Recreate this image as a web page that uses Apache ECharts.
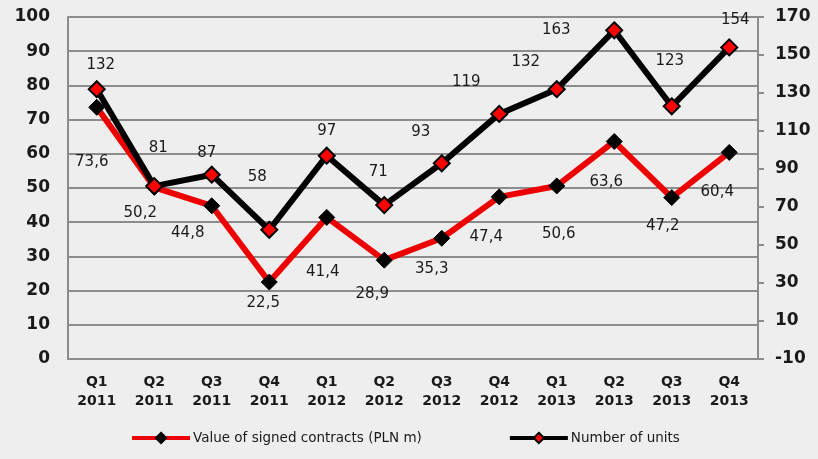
<!DOCTYPE html>
<html>
<head>
<meta charset="utf-8">
<script src="https://cdn.jsdelivr.net/npm/echarts@6/dist/echarts.min.js"></script>
<style>
  html, body { margin: 0; padding: 0; background: #eeeeee; }
  #chart { width: 818px; height: 459px; }
</style>
</head>
<body>
<div id="chart"></div>
<script>
// categories and values
const quarters = ["Q1\n2011", "Q2\n2011", "Q3\n2011", "Q4\n2011", "Q1\n2012", "Q2\n2012",
  "Q3\n2012", "Q4\n2012", "Q1\n2013", "Q2\n2013", "Q3\n2013", "Q4\n2013"];
const contractValues = [73.6, 50.2, 44.8, 22.5, 41.4, 28.9, 35.3, 47.4, 50.6, 63.6, 47.2, 60.4];
const unitCounts = [132, 81, 87, 58, 97, 71, 93, 119, 132, 163, 123, 154];
const leftTicks = { min: 0, max: 100, interval: 10 };
const rightTicks = { min: -10, max: 170, interval: 20 };

// manual label offsets (like the hand-placed labels in the original)
const valueLabelOffsets = [[-5, 55], [-14, 26], [-24, 27], [-6, 21], [-4, 55], [-12, 34],
  [-10, 31], [-13, 40], [2, 48], [-8, 41], [-9, 29], [-12, 40]];
const unitLabelOffsets = [[4, -24], [4, -38], [-5, -22], [-12, -53], [0, -25], [-6, -33],
  [-21, -31], [-33, -32], [-31, -27], [-58, 0], [-2, -45], [6, -27]];

const labelFont = "Tahoma, 'DejaVu Sans', sans-serif";
const textColor = "#1a1a1a";
const gridColor = "#8c8c8c";

const myChart = echarts.init(document.getElementById("chart"));

const withOffsets = (values, offsets) =>
  values.map((v, i) => ({ value: v, label: { offset: offsets[i] } }));

const option = {
  backgroundColor: "#eeeeee",
  animation: false,
  grid: { left: 68, right: 60, top: 17, bottom: 100 },
  legend: {
    bottom: 9,
    left: 125,
    itemGap: 86,
    itemWidth: 58,
    itemHeight: 13,
    lineStyle: { width: 4 },
    textStyle: { fontFamily: labelFont, fontSize: 13.5, color: textColor, padding: [0, 0, 0, -2] },
    data: ["Value of signed contracts (PLN m)", "Number of units"],
  },
  xAxis: {
    type: "category",
    data: quarters,
    boundaryGap: true,
    axisLine: { lineStyle: { color: gridColor, width: 2 } },
    axisTick: { show: false },
    axisLabel: {
      fontFamily: labelFont,
      fontWeight: "bold",
      fontSize: 14,
      color: textColor,
      lineHeight: 19,
      margin: 14,
    },
  },
  yAxis: [
    {
      type: "value",
      ...leftTicks,
      axisLine: { show: true, lineStyle: { color: gridColor, width: 2 } },
      axisTick: { show: false },
      splitLine: { lineStyle: { color: gridColor, width: 2 } },
      axisLabel: { fontFamily: labelFont, fontWeight: "bold", fontSize: 17, color: textColor, margin: 18 },
    },
    {
      type: "value",
      ...rightTicks,
      axisLine: { show: true, lineStyle: { color: gridColor, width: 2 } },
      axisTick: { show: true, length: 6, lineStyle: { color: gridColor, width: 2 } },
      splitLine: { show: false },
      axisLabel: { fontFamily: labelFont, fontWeight: "bold", fontSize: 17, color: textColor, margin: 17 },
    },
  ],
  series: [
    {
      name: "Value of signed contracts (PLN m)",
      type: "line",
      yAxisIndex: 0,
      data: withOffsets(contractValues, valueLabelOffsets),
      lineStyle: { color: "#ee0000", width: 6 },
      itemStyle: { color: "#000000", borderColor: "#000000", borderWidth: 1 },
      symbol: "diamond",
      symbolSize: 16,
      label: {
        show: true,
        position: "inside",
        fontFamily: labelFont,
        fontSize: 15,
        color: textColor,
        formatter: (p) => p.value.toFixed(1).replace(".", ","),
      },
    },
    {
      name: "Number of units",
      type: "line",
      yAxisIndex: 1,
      data: withOffsets(unitCounts, unitLabelOffsets),
      lineStyle: { color: "#000000", width: 6 },
      itemStyle: { color: "#ff0000", borderColor: "#000000", borderWidth: 2 },
      symbol: "diamond",
      symbolSize: 16,
      label: {
        show: true,
        position: "inside",
        fontFamily: labelFont,
        fontSize: 15,
        color: textColor,
      },
    },
  ],
};

myChart.setOption(option);
</script>
</body>
</html>
